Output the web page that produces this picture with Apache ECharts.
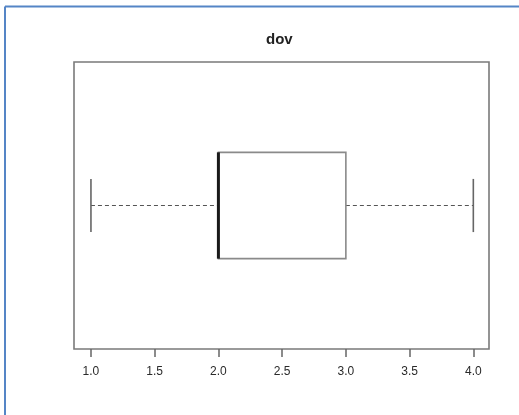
<!DOCTYPE html>
<html>
<head>
<meta charset="utf-8">
<script src="https://cdn.jsdelivr.net/npm/echarts@6/dist/echarts.min.js"></script>
<style>
  html, body { margin: 0; padding: 0; background: #ffffff; }
  #chart { width: 519px; height: 415px; }
</style>
</head>
<body>
<div id="chart"></div>
<script>
// Five-number summary of "dov": min, lower hinge, median, upper hinge, max
const variableName = 'dov';
const fiveNumber = [1, 2, 2, 3, 4];
const tickValues = [1.0, 1.5, 2.0, 2.5, 3.0, 3.5, 4.0];

// Box sits at position 1 on the vertical value axis
const boxPosition = 1;
const boxHalfWidth = 0.2;
const stapleHalfWidth = 0.1;

const chart = echarts.init(document.getElementById('chart'), null, { renderer: 'canvas' });

function renderBox(params, api) {
  const lo = api.value(0), q1 = api.value(1), med = api.value(2), q3 = api.value(3), hi = api.value(4);
  const pos = boxPosition;
  const c = (x, y) => api.coord([x, y]);
  const top = c(q1, pos + boxHalfWidth)[1];
  const bottom = c(q1, pos - boxHalfWidth)[1];
  const xq1 = c(q1, pos)[0], xq3 = c(q3, pos)[0];
  const xlo = c(lo, pos)[0], xhi = c(hi, pos)[0], xmed = c(med, pos)[0];
  const yc = c(q1, pos)[1];
  const sTop = c(lo, pos + stapleHalfWidth)[1];
  const sBot = c(lo, pos - stapleHalfWidth)[1];
  const whisker = { stroke: '#555555', lineWidth: 1, lineDash: [4, 3] };
  const staple = { stroke: '#666666', lineWidth: 1.6 };
  return {
    type: 'group',
    children: [
      { type: 'line', shape: { x1: xlo, y1: yc, x2: xq1, y2: yc }, style: whisker },
      { type: 'line', shape: { x1: xq3, y1: yc, x2: xhi, y2: yc }, style: whisker },
      { type: 'line', shape: { x1: xlo, y1: sTop, x2: xlo, y2: sBot }, style: staple },
      { type: 'line', shape: { x1: xhi, y1: sTop, x2: xhi, y2: sBot }, style: staple },
      { type: 'rect', shape: { x: xq1, y: top, width: xq3 - xq1, height: bottom - top },
        style: { fill: '#ffffff', stroke: '#8a8a8a', lineWidth: 1.6 } },
      { type: 'line', shape: { x1: xmed, y1: top, x2: xmed, y2: bottom },
        style: { stroke: '#1a1a1a', lineWidth: 3 } }
    ]
  };
}

chart.setOption({
  animation: false,
  backgroundColor: '#ffffff',
  title: {
    text: variableName,
    left: 261,
    top: 27,
    textStyle: { fontFamily: 'Liberation Sans', fontWeight: 'bold', fontSize: 15, color: '#222222' }
  },
  graphic: [
    { type: 'line', shape: { x1: 5, y1: 6.5, x2: 519, y2: 6.5 }, style: { stroke: '#5585c6', lineWidth: 2 } },
    { type: 'line', shape: { x1: 5, y1: 6.5, x2: 5, y2: 415 }, style: { stroke: '#5585c6', lineWidth: 2 } }
  ],
  grid: {
    left: 74, right: 30, top: 62, bottom: 66,
    show: true, borderColor: '#7a7a7a', borderWidth: 1.6, backgroundColor: '#ffffff'
  },
  xAxis: {
    type: 'value',
    min: 0.867, max: 4.123,
    splitLine: { show: false },
    axisLine: { show: false },
    axisTick: { show: true, length: 8, customValues: tickValues, lineStyle: { color: '#666666', width: 1.5 } },
    axisLabel: {
      customValues: tickValues,
      margin: 17,
      fontFamily: 'Liberation Sans', fontSize: 12, color: '#2a2a2a',
      formatter: v => v.toFixed(1)
    }
  },
  yAxis: {
    type: 'value',
    min: 0.46, max: 1.54,
    show: false,
    splitLine: { show: false }
  },
  series: [{
    type: 'custom',
    renderItem: renderBox,
    encode: { x: [0, 1, 2, 3, 4] },
    data: [fiveNumber]
  }]
});
</script>
</body>
</html>
